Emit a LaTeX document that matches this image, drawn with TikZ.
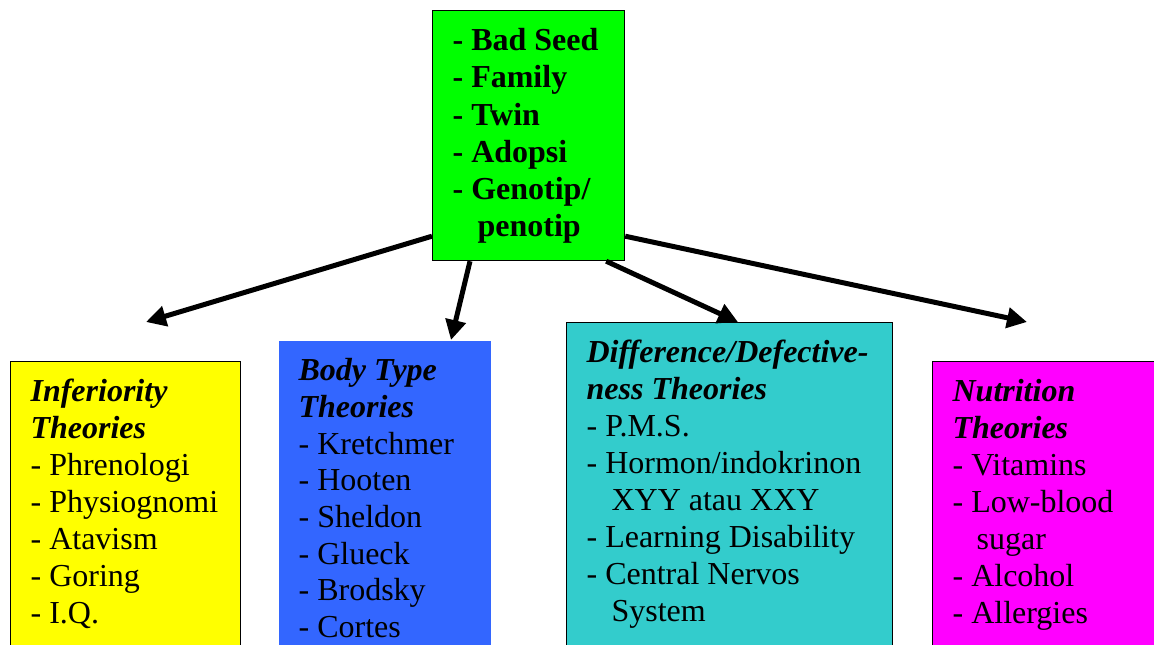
\documentclass[tikz,border=0pt]{standalone}
\usepackage{fontspec}
\setmainfont{Liberation Serif}
\usetikzlibrary{arrows.meta, positioning}
\definecolor{seedgreen}{RGB}{0,255,0}
\definecolor{infyellow}{RGB}{255,255,0}
\definecolor{bodyblue}{RGB}{51,102,255}
\definecolor{defteal}{RGB}{51,204,204}
\definecolor{nutmagenta}{RGB}{255,0,255}
\tikzset{
    theorybox/.style={anchor=north west, align=flush left, inner xsep=20pt, inner ysep=18pt, text height=22pt, text depth=400pt, line width=1.2pt, font=\fontsize{32}{37}\selectfont},
    treearrow/.style={-{Triangle[length=20pt,width=20pt]}, line width=5pt, draw=black}
}
\newcommand{\ttl}[1]{\textbf{\textit{#1}}}
\newcommand{\itm}[1]{-~#1}
\begin{document}
\begin{tikzpicture}[x=1pt,y=1pt]
    \clip (0,0) rectangle (1154,-645);
    \fill[white] (0,0) rectangle (1154,-645);
    % top box
    \node[theorybox, fill=seedgreen, draw=black, text width=152pt, text depth=192pt, font=\fontsize{32}{37.2}\selectfont\bfseries] (seed) at (432,-10)
        {\itm{Bad~Seed}\\\itm{Family}\\\itm{Twin}\\\itm{Adopsi}\\\itm{Genotip/}\\\hspace*{25pt}penotip};
    % theory boxes
    \node[theorybox, fill=infyellow, draw=black, text width=190pt] (inferior) at (10,-361)
        {\ttl{Inferiority}\\\ttl{Theories}\\\itm{Phrenologi}\\\itm{Physiognomi}\\\itm{Atavism}\\\itm{Goring}\\\itm{I.Q.}};
    \node[theorybox, fill=bodyblue, text width=172pt, font=\fontsize{32}{36.7}\selectfont] (body) at (278,-340)
        {\ttl{Body~Type}\\\ttl{Theories}\\\itm{Kretchmer}\\\itm{Hooten}\\\itm{Sheldon}\\\itm{Glueck}\\\itm{Brodsky}\\\itm{Cortes}};
    \node[theorybox, fill=defteal, draw=black, text width=286pt] (defect) at (566,-322)
        {\ttl{Difference/Defective-}\\\ttl{ness~Theories}\\\itm{P.M.S.}\\\itm{Hormon/indokrinon}\\\hspace*{25pt}XYY~atau~XXY\\\itm{Learning~Disability}\\\itm{Central~Nervos}\\\hspace*{25pt}System};
    \node[theorybox, fill=nutmagenta, draw=black, text width=240pt] (nutrition) at (932,-361)
        {\ttl{Nutrition}\\\ttl{Theories}\\\itm{Vitamins}\\\itm{Low-blood}\\\hspace*{24pt}sugar\\\itm{Alcohol}\\\itm{Allergies}};
    % arrows
    \coordinate (inftip) at (146,-322);
    \coordinate (nuttip) at (1027,-322);
    \draw[treearrow] ([yshift=25pt]seed.south west) -- (inftip);
    \draw[treearrow] ([xshift=38pt]seed.south west) -- ([xshift=173pt]body.north west);
    \draw[treearrow] ([xshift=-19pt]seed.south east) -- ([xshift=172pt]defect.north west);
    \draw[treearrow] ([yshift=25pt]seed.south east) -- (nuttip);
\end{tikzpicture}
\end{document}
